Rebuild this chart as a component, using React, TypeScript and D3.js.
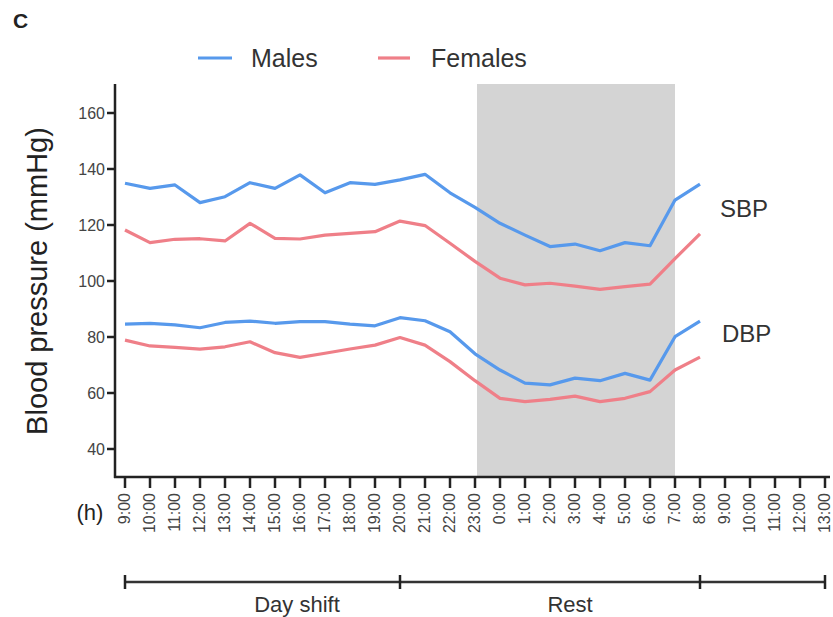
import React from "react";
import * as d3 from "d3";

// Hour-of-day tick labels, 9:00 on day one through 13:00 on day two
const hourLabels = [
  "9:00", "10:00", "11:00", "12:00", "13:00", "14:00", "15:00", "16:00",
  "17:00", "18:00", "19:00", "20:00", "21:00", "22:00", "23:00", "0:00",
  "1:00", "2:00", "3:00", "4:00", "5:00", "6:00", "7:00", "8:00",
  "9:00", "10:00", "11:00", "12:00", "13:00",
];

// Hourly means (mmHg), 9:00 through 8:00
const malesSBP = [134.9, 133.1, 134.3, 128.0, 130.1, 135.1, 133.1, 137.9, 131.5, 135.1, 134.5, 136.1, 138.1, 131.5, 126.3, 120.6, 116.4, 112.3, 113.2, 110.8, 113.7, 112.6, 128.9, 134.6];
const femalesSBP = [118.2, 113.7, 114.9, 115.1, 114.3, 120.6, 115.2, 115.0, 116.4, 117.0, 117.6, 121.4, 119.8, 113.5, 107.0, 101.0, 98.6, 99.2, 98.2, 97.0, 98.0, 98.9, 108.0, 116.8];
const malesDBP = [84.6, 84.9, 84.3, 83.3, 85.2, 85.7, 84.9, 85.5, 85.5, 84.6, 84.0, 86.9, 85.8, 81.9, 74.0, 68.2, 63.5, 62.9, 65.3, 64.4, 67.0, 64.6, 80.1, 85.7];
const femalesDBP = [78.9, 76.8, 76.3, 75.7, 76.5, 78.3, 74.4, 72.7, 74.2, 75.7, 77.1, 79.8, 77.1, 71.2, 64.4, 58.1, 56.9, 57.7, 58.9, 56.9, 58.1, 60.5, 68.2, 72.8];

const yTicks = [40, 60, 80, 100, 120, 140, 160];

// Shaded rest window (tick indices 23:00 -> 7:00)
const restBand = [14, 22];

// Schedule bracket: boundaries (tick indices) and segment labels
const periodBounds = [0, 11, 23, 28];
const periodLabels = ["Day shift", "Rest"];

const BLUE = "#5799ec";
const PINK = "#ef7f88";
const FONT = "Liberation Sans, Arial, sans-serif";

export default function App() {
  const W = 833;
  const H = 617;
  const axisX = 115;
  const axisY = 477;

  const x = d3.scaleLinear().domain([0, hourLabels.length - 1]).range([125, 825]);
  const y = d3.scaleLinear().domain([30, 170]).range([axisY, 85]);

  const line = d3
    .line<number>()
    .x((_, i) => x(i))
    .y((d) => y(d));

  const series = [
    { values: malesSBP, color: BLUE },
    { values: femalesSBP, color: PINK },
    { values: malesDBP, color: BLUE },
    { values: femalesDBP, color: PINK },
  ];

  const bracketY = 582;

  return (
    <svg
      width={W}
      height={H}
      style={{ position: "absolute", left: 0, top: 0, background: "#fff" }}
      fontFamily={FONT}
    >
      <rect x={0} y={0} width={W} height={H} fill="#fff" />

      {/* panel letter */}
      <text x={13} y={28} fontSize={21} fontWeight="bold" fill="#222">
        C
      </text>

      {/* legend */}
      <line x1={198} x2={232} y1={58} y2={58} stroke={BLUE} strokeWidth={3.2} />
      <text x={251} y={58} dy="0.35em" fontSize={25} fill="#333">
        Males
      </text>
      <line x1={378} x2={410} y1={58} y2={58} stroke={PINK} strokeWidth={3.2} />
      <text x={431} y={58} dy="0.35em" fontSize={25} fill="#333">
        Females
      </text>

      {/* rest period shading */}
      <rect
        x={x(restBand[0]) + 2}
        y={84}
        width={x(restBand[1]) - x(restBand[0]) - 2}
        height={axisY - 84}
        fill="#d4d4d4"
      />

      {/* lines */}
      {series.map((s, i) => (
        <path
          key={i}
          d={line(s.values) || ""}
          fill="none"
          stroke={s.color}
          strokeWidth={3.2}
          strokeLinejoin="round"
        />
      ))}

      {/* series group labels */}
      <text x={720} y={217} fontSize={24} fill="#333">
        SBP
      </text>
      <text x={722} y={342} fontSize={24} fill="#333">
        DBP
      </text>

      {/* y axis */}
      <line x1={axisX} x2={axisX} y1={84} y2={axisY + 1} stroke="#222" strokeWidth={2.5} />
      {yTicks.map((t) => (
        <g key={t}>
          <line x1={axisX - 8} x2={axisX} y1={y(t)} y2={y(t)} stroke="#222" strokeWidth={2.5} />
          <text
            x={axisX - 10}
            y={y(t)}
            dy="0.35em"
            textAnchor="end"
            fontSize={16}
            fill="#444"
          >
            {t}
          </text>
        </g>
      ))}
      <text
        transform={`translate(47,${281}) rotate(-90)`}
        textAnchor="middle"
        fontSize={29}
        fill="#222"
      >
        Blood pressure (mmHg)
      </text>

      {/* x axis */}
      <line x1={axisX - 1} x2={830} y1={axisY} y2={axisY} stroke="#222" strokeWidth={2.5} />
      {hourLabels.map((h, i) => (
        <g key={i}>
          <line x1={x(i)} x2={x(i)} y1={axisY} y2={axisY + 11} stroke="#222" strokeWidth={2.5} />
          <text
            transform={`translate(${x(i)},${axisY + 16}) rotate(-90)`}
            dy="0.33em"
            textAnchor="end"
            fontSize={16}
            fill="#444"
          >
            {h}
          </text>
        </g>
      ))}
      <text x={90} y={512} dy="0.35em" textAnchor="middle" fontSize={22} fill="#222">
        (h)
      </text>

      {/* schedule bracket */}
      <line
        x1={x(periodBounds[0])}
        x2={x(periodBounds[periodBounds.length - 1])}
        y1={bracketY}
        y2={bracketY}
        stroke="#333"
        strokeWidth={2.5}
      />
      {periodBounds.map((b, i) => (
        <line
          key={i}
          x1={x(b)}
          x2={x(b)}
          y1={bracketY - 7}
          y2={bracketY + 7}
          stroke="#222"
          strokeWidth={2.5}
        />
      ))}
      <text x={297} y={612} textAnchor="middle" fontSize={22} fill="#333">
        {periodLabels[0]}
      </text>
      <text x={570} y={612} textAnchor="middle" fontSize={22} fill="#333">
        {periodLabels[1]}
      </text>
    </svg>
  );
}
